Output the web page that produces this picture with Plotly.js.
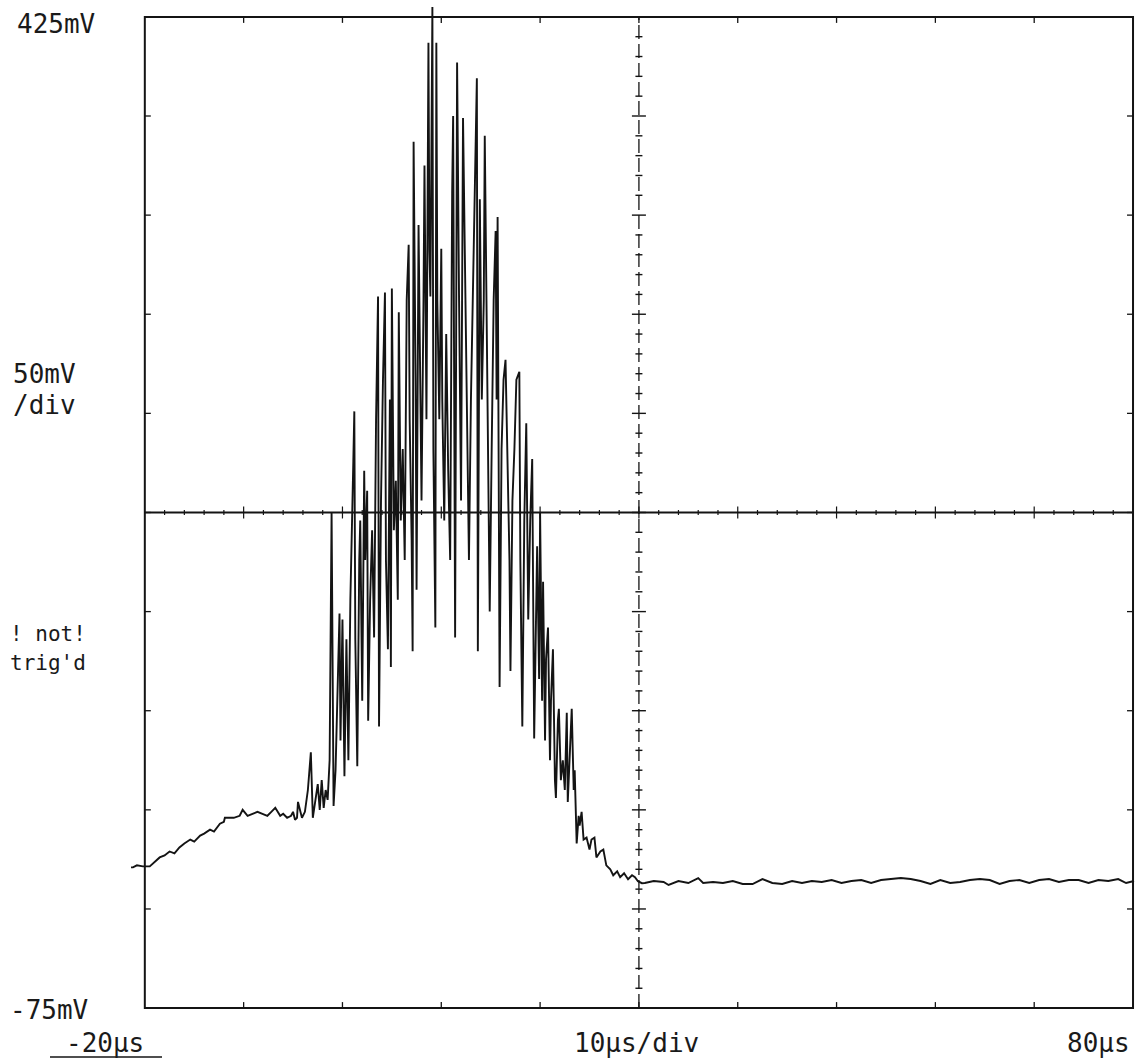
<!DOCTYPE html>
<html><head><meta charset="utf-8">
<script src="https://cdn.plot.ly/plotly-3.0.1.min.js"></script>
<style>html,body{margin:0;padding:0;background:#fff;overflow:hidden}#chart{width:1135px;height:1063px}</style>
</head><body><div id="chart"></div>
<script>
// ---- data (time in µs, signal in mV) ----
const preTime = [-21.4,-21.2,-20.8,-20.2,-19.5,-19.0,-18.5,-18.0,-17.5,-17.0,-16.5,-16.0,-15.4,-15.0,-14.4,-14.0,-13.4,-13.0,-12.4,-12.0,-11.9,-11.0,-10.4,-10.1,-9.6,-9.1,-8.6,-8.1,-7.6,-7.2,-6.8,-6.3,-6.0,-5.6,-5.2,-5.0,-4.8,-4.6];
const preSignal = [-4,-4,-3,-3.5,-3.5,-1,1,2,4,3,6,8,10,9,12,13,15,14,18,19,21,21,22,25,22,23,24,23,22,24,26,22,23,21,22,24,20,21];

const burstTime = [-4.5,-4.1,-3.8,-3.5,-3.2,-3.0,-2.7,-2.5,-2.3,-2.1,-1.9,-1.7,-1.5,-1.3,-1.1,-1.0,-0.9,-0.7,-0.5,-0.3,-0.2,0.0,0.2,0.4,0.6,0.8,1.1,1.2,1.3,1.5,1.7,1.8,2.0,2.2,2.3,2.5,2.6,2.8,3.0,3.2,3.4,3.6,3.7,3.9,4.1,4.3,4.4,4.6,4.8,4.9,5.0,5.2,5.4,5.6,5.7,5.9,6.1,6.3,6.5,6.7,6.8,7.0,7.1,7.2,7.4,7.5,7.7,7.8,8.0,8.2,8.3,8.5,8.7,8.8,8.9,9.1,9.2,9.4,9.5,9.6,9.8,10.0,10.1,10.3,10.5,10.7,10.9,11.1,11.2,11.4,11.6,11.8,12.0,12.2,12.4,12.6,12.8,13.0,13.2,13.4,13.6,13.7,13.9,14.1,14.3,14.4,14.6,14.7,14.9,15.1,15.3,15.5,15.6,15.7,15.9,16.1,16.3,16.5,16.7,16.9,17.0,17.2,17.4,17.6,17.9,18.0,18.2,18.4,18.6,18.8,19.0,19.2,19.4,19.6,19.7,19.9,20.0,20.2,20.3,20.5,20.6,20.8,21.0,21.1,21.3,21.5,21.6,21.8,21.9,22.1,22.3,22.5,22.7,22.8,23.0,23.2,23.4,23.5,23.7,23.9,24.0,24.2,24.4,24.7,25.0,25.2,25.5,25.7,26.1,26.4,26.7,27.1,27.4,27.8,28.1,28.5,28.9,29.3,29.6,29.9,30.3];
const burstSignal = [29,21,24,35,54,21,30,38,25,40,26,35,30,50,175,80,27,45,91,124,60,121,42,111,50,131,201,226,111,47,151,171,80,196,151,186,70,131,166,112,222,284,67,181,242,286,151,106,232,97,288,166,191,131,276,171,207,151,282,310,222,161,105,362,242,136,320,267,181,282,350,222,412,307,284,430,207,117,412,282,222,308,232,171,265,196,151,336,375,112,402,282,181,374,307,222,151,232,282,333,394,105,333,232,282,365,257,207,125,207,282,317,232,324,87,207,242,252,191,151,95,181,207,242,246,151,67,171,220,121,171,202,61,131,158,91,175,80,140,60,101,117,50,80,106,40,31,70,76,40,50,35,74,29,55,76,35,45,8,22,17,24,10,11,5,10,11,1,4,5,-3,-5,-8,-6,-9,-7,-10,-8,-9,-11,-12];

const postTime = [30.6,31.5,32.5,33.0,34.0,35.0,36.0,36.5,37.5,38.5,39.5,40.5,41.5,42.5,43.5,44.5,45.5,46.5,47.5,48.5,49.5,50.5,51.5,52.5,53.5,54.5,55.5,56.5,57.5,58.5,59.5,60.5,61.5,62.5,63.5,64.5,65.5,66.5,67.5,68.5,69.5,70.5,71.5,72.5,73.5,74.5,75.5,76.5,77.5,78.5,79.3,80.1];
const postSignal = [-11.9,-10.9,-11.4,-12.9,-10.9,-11.9,-9.4,-11.9,-11.4,-11.9,-10.9,-12.4,-12.4,-9.9,-11.9,-12.4,-10.9,-11.9,-10.9,-11.4,-10.4,-11.9,-10.9,-10.4,-11.9,-10.4,-9.9,-9.4,-9.9,-10.9,-12.4,-10.4,-11.9,-11.4,-10.4,-9.9,-10.4,-12.4,-10.9,-10.4,-11.9,-10.4,-9.9,-11.4,-10.4,-10.4,-11.9,-10.4,-10.9,-9.9,-11.9,-10.9];

// screen scale: 10 divisions each way
const xStart = -20, xEnd = 80, xDiv = 10;
const yStart = -75, yEnd = 425, yDiv = 50;
const xCenter = 30, yCenter = 175;

const labels = {
  top: '425mV', scale1: '50mV', scale2: '/div', trig1: '! not!', trig2: "trig'd",
  bottom: '-75mV', tStart: '-20µs', tDiv: '10µs/div', tEnd: '80µs'
};

// ---- layout helpers ----
const W = 1135, H = 1063;
const M = {l:130, r:0, t:3, b:45};
const PW = W - M.l - M.r, PH = H - M.t - M.b;
const px2x = p => (p - M.l) / PW;
const py2y = p => (H - M.b - p) / PH;

const time = preTime.concat(burstTime, postTime);
const signal = preSignal.concat(burstSignal, postSignal);

const trace = {
  x: time, y: signal, type: 'scatter', mode: 'lines',
  line: {color: '#141414', width: 1.9}, hoverinfo: 'skip', showlegend: false
};

const ink = '#141414';
const shapes = [];
// frame
shapes.push({type:'rect', xref:'x', yref:'y', x0:xStart, x1:xEnd, y0:yStart, y1:yEnd, line:{color:ink, width:2}, layer:'above'});
// centre horizontal
shapes.push({type:'line', xref:'x', yref:'y', x0:xStart, x1:xEnd, y0:yCenter, y1:yCenter, line:{color:ink, width:1.8}});
// centre vertical dashed
shapes.push({type:'line', xref:'x', yref:'y', x0:xCenter, x1:xCenter, y0:yStart, y1:yEnd, line:{color:ink, width:1.3, dash:'14px,5px'}});

// frame ticks at each division
for (let t = xStart + xDiv; t < xEnd; t += xDiv) {
  shapes.push({type:'line', xref:'x', yref:'y', ysizemode:'pixel', yanchor:yStart, x0:t, x1:t, y0:0, y1:6, line:{color:ink, width:1.3}});
  shapes.push({type:'line', xref:'x', yref:'y', ysizemode:'pixel', yanchor:yEnd, x0:t, x1:t, y0:0, y1:-6, line:{color:ink, width:1.3}});
}
for (let v = yStart + yDiv; v < yEnd; v += yDiv) {
  shapes.push({type:'line', xref:'x', yref:'y', xsizemode:'pixel', xanchor:xStart, y0:v, y1:v, x0:0, x1:6, line:{color:ink, width:1.3}});
  shapes.push({type:'line', xref:'x', yref:'y', xsizemode:'pixel', xanchor:xEnd, y0:v, y1:v, x0:0, x1:-6, line:{color:ink, width:1.3}});
}
// centre axis ticks (1/5 division)
for (let i = 1; i < 50; i++) {
  const t = xStart + i * xDiv / 5;
  const big = (i % 5 === 0);
  const h = big ? 6 : 2.5;
  shapes.push({type:'line', xref:'x', yref:'y', ysizemode:'pixel', yanchor:yCenter, x0:t, x1:t, y0:-h, y1:h, line:{color:ink, width:1.2}});
  const v = yStart + i * yDiv / 5;
  const w = big ? 7 : 3.5;
  shapes.push({type:'line', xref:'x', yref:'y', xsizemode:'pixel', xanchor:xCenter, y0:v, y1:v, x0:-w, x1:w, line:{color:ink, width:1.4}});
}
// underline under start time
shapes.push({type:'line', xref:'paper', yref:'paper', x0:px2x(50), x1:px2x(162), y0:py2y(1057), y1:py2y(1057), line:{color:ink, width:1.5}});

const font = {family:'DejaVu Sans Mono, monospace', size:26, color:'#1a1a1a'};
function ann(text, px, py, anchor) {
  return {text, xref:'paper', yref:'paper', x:px2x(px), y:py2y(py), xanchor:anchor||'left', yanchor:'middle', showarrow:false, font};
}
const small = Object.assign({}, font, {size:21});
const annotations = [
  ann(labels.top, 15, 24),
  ann(labels.scale1, 11, 374),
  ann(labels.scale2, 11, 405),
  Object.assign(ann(labels.trig1, 8, 634), {font:small}),
  Object.assign(ann(labels.trig2, 8, 663), {font:small}),
  ann(labels.bottom, 8, 1010),
  ann(labels.tStart, 64, 1043),
  ann(labels.tDiv, 572, 1043),
  ann(labels.tEnd, 1132, 1043, 'right')
];

const layout = {
  width: W, height: H,
  margin: M,
  paper_bgcolor: '#ffffff', plot_bgcolor: '#ffffff',
  xaxis: {range:[-21.5, 80.2], visible:false, fixedrange:true},
  yaxis: {range:[-80, 432], visible:false, fixedrange:true},
  shapes, annotations, showlegend:false
};
Plotly.newPlot('chart', [trace], layout, {displayModeBar:false, staticPlot:true});
</script>
</body></html>
